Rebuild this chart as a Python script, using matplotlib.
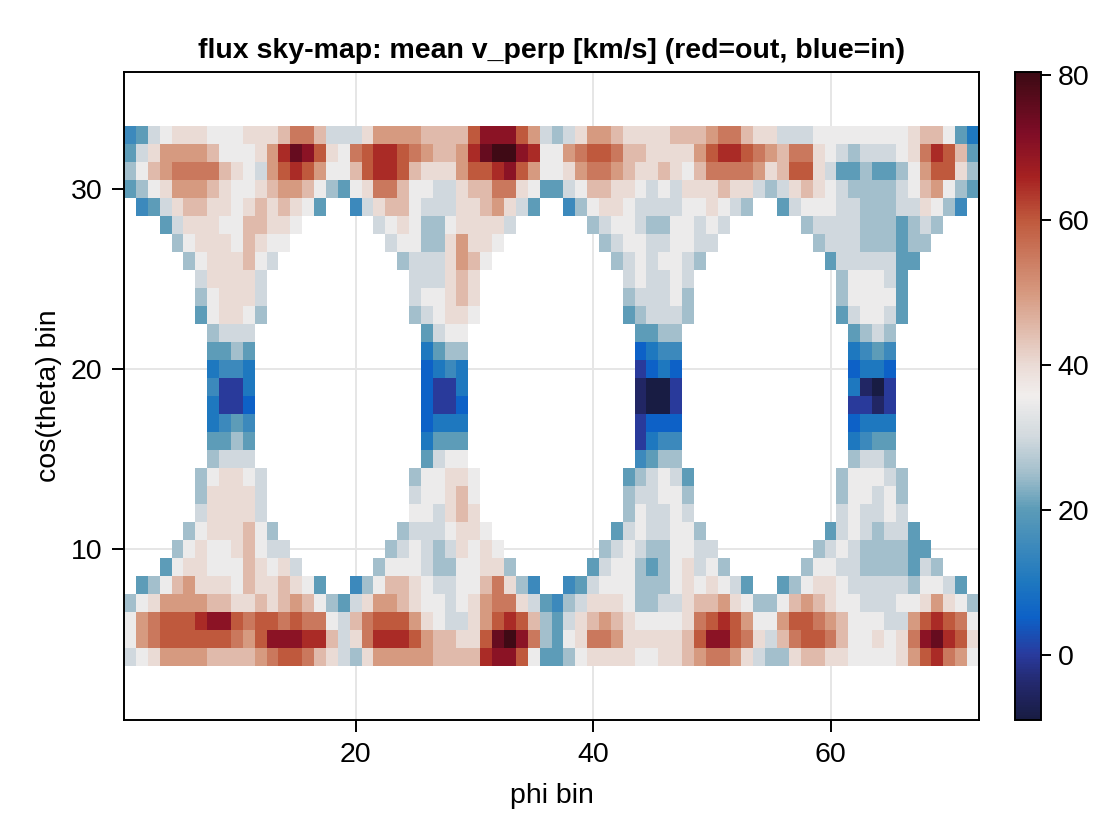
import numpy as np
import matplotlib
matplotlib.use("Agg")
import matplotlib.pyplot as plt
from matplotlib.colors import LinearSegmentedColormap

plt.rcParams["font.family"] = ["Liberation Sans", "DejaVu Sans"]

# ===============================
# Data
# ===============================
n_phi = 72
n_theta = 36
top_row = 33  # highest filled cos(theta) bin

# one letter per bin: a=-10, b=-5, c=0 ... s=80 km/s ; "." = empty bin
levels = "abcdefghijklmnopqrs"
level_values = [-10 + 5 * i for i in range(len(levels))]

# cos(theta) bins 33 down to 4, phi bins 1..72 in four groups of 18
sky_rows = [
    "fgijkkkjjjkkklnnli iikmmmmlllloqqqomi hikmmlkkkklllmnnlk kiiijjjjjjjjklljge",
    "gikmmmmljjjkmprqok jnopponmllmprssqpj jmnoonllkkkkmoppon mlnnkjihiiijknpolg",
    "hjlmnnnnlkjimopomj jloppolkkkmoopqomj jkmnnmlkklkjlnnnnm klookigghgghjmookh",
    "ghjkmmmlkjjklmmljh gjknnljjiikllnnkjg gijllkkjijikkklkki hiklkjihhhhijlmjhg",
    ".fgikllkkjklklkjg. .fiklljiiikklmkig. .fhjkkjiiiijjkjih. .gijjjiihhhiikjhf.",
    "...gikkkjjllkkj... ...ijkjhhjkkkki... ...hijjihhjjiji... ...hiiiihhhghih...",
    "....hjkkkjlkjj.... ....ijjhhkmkkj.... ....hijjiijjii.... ....hiiihhhghh....",
    ".....hjkkklji..... .....hiiikmlj..... .....hijijjih..... .....giiiiigg.....",
    "......ikkkki...... ......iiiklk...... ......ijiiji...... ......hjjjig......",
    "......hjkkki...... ......ijjklk...... ......hiiijh...... ......hjjjjg......",
    "......gjkkjh...... ......hijkkj...... ......ghiiih...... ......gijjig......",
    ".......hiii....... .......gijj....... .......gghh....... .......ghih.......",
    ".......gghg....... .......eghh....... .......deff....... .......efgf.......",
    ".......effe....... .......defe....... .......cded....... .......deed.......",
    ".......fcce....... .......dcce....... .......baac....... .......ebac.......",
    ".......eccd....... .......dccd....... .......baac....... .......ccbc.......",
    ".......efgf....... .......deee....... .......cddd....... .......deee.......",
    ".......gghg....... .......eggg....... .......ceff....... .......efgg.......",
    ".......hiii....... .......gijj....... .......fghh....... .......hiih.......",
    "......hjkkji...... ......hjjkkj...... ......ghijig...... ......hjjjih......",
    "......hkkkki...... ......ijjklj...... ......hiijjh...... ......hjjijh......",
    "......ikkkki...... ......jjiklk...... ......hjiiji...... ......ijiiji......",
    ".....hjkkkljh..... .....hiiijkkj..... .....gijiijjh..... .....gijihiig.....",
    "....hjkjjkljii.... ....hijihikjkj.... ....hijihhjjii.... ....hijihhhhgg....",
    "...gjkkjjjlkjki... ...hjjjihhjjkkh... ...gijjhghjkijh... ...hjjiihhhhgih...",
    ".ghjlmkkkjlkklkjg. .fhjllkjiijjlnkhf. .fgijjjhhhjkjkjig. .ghjkkjiiiiihjjig.",
    "hjkmmmmllkklklmljh gikmmlkjjijkmnnkig fhikkkjhhiikllmkjh hjlmlkjjiiijjkmkjh",
    "jmnooopqqonoononnj ilnooomkjiikmopolh giklmlkjjjjknopomj jmoonmljjjiimoponj",
    "jmnoooooonmoqqqppl iknpppomllkkorsqnh gjknnmkkkkkloqqonk ilnoonljjkjknqrpok",
    "ijkmmmmllllmnoonlk ihkmmmmmllllpqqojg ghjkkkkjjkklmnnmki hhkllkkjjjjkmopnmj",
]

vmin, vmax = -9.0, 80.4

# balance-like colormap anchors (value, rgb)
cmap_anchors = [
    (-9.0, (0.094, 0.110, 0.263)),
    (-4.0, (0.140, 0.160, 0.430)),
    (0.0, (0.160, 0.230, 0.620)),
    (5.0, (0.050, 0.380, 0.780)),
    (10.0, (0.120, 0.470, 0.750)),
    (20.0, (0.360, 0.610, 0.720)),
    (25.0, (0.640, 0.750, 0.800)),
    (30.0, (0.820, 0.850, 0.870)),
    (35.7, (0.945, 0.933, 0.929)),
    (40.0, (0.920, 0.860, 0.840)),
    (50.0, (0.840, 0.600, 0.500)),
    (60.0, (0.750, 0.350, 0.240)),
    (66.0, (0.650, 0.130, 0.130)),
    (72.0, (0.500, 0.050, 0.150)),
    (80.4, (0.235, 0.039, 0.078)),
]

# ===============================
# Build grid
# ===============================
grid = np.full((n_theta, n_phi), np.nan)
for k, row in enumerate(sky_rows):
    row = row.replace(" ", "")
    assert len(row) == n_phi
    for j, ch in enumerate(row):
        if ch != ".":
            grid[top_row - 1 - k, j] = level_values[levels.index(ch)]

cmap = LinearSegmentedColormap.from_list(
    "balance_like",
    [((v - vmin) / (vmax - vmin), c) for v, c in cmap_anchors],
)

# ===============================
# Plot
# ===============================
W, H = 1120, 840
fs = 20.5
fig = plt.figure(figsize=(W / 100, H / 100), dpi=100)
ax = fig.add_axes([124 / W, 120 / H, 855 / W, 648 / H])
cax = fig.add_axes([1015 / W, 120 / H, 26 / W, 648 / H])

x_edges = np.arange(0.5, n_phi + 1)
y_edges = np.arange(0.5, n_theta + 1)
mesh = ax.pcolormesh(x_edges, y_edges, grid, cmap=cmap, vmin=vmin, vmax=vmax)

ax.set_xlim(0.5, n_phi + 0.5)
ax.set_ylim(0.5, n_theta + 0.5)
ax.set_xticks([20, 40, 60])
ax.set_yticks([10, 20, 30])
ax.set_axisbelow(True)
ax.grid(True, color="#e6e6e6", linewidth=1.4)
ax.tick_params(direction="out", length=8.5, width=1.4, labelsize=fs, pad=7)
for s in ax.spines.values():
    s.set_linewidth(1.4)

ax.set_title("flux sky-map: mean v_perp [km/s] (red=out, blue=in)",
             fontsize=fs, fontweight="bold", pad=10)
ax.set_xlabel("phi bin", fontsize=fs, labelpad=11)
ax.set_ylabel("cos(theta) bin", fontsize=fs, labelpad=6)

cb = fig.colorbar(mesh, cax=cax)
cb.set_ticks([0, 20, 40, 60, 80])
cb.outline.set_linewidth(1.4)
cax.tick_params(direction="out", length=7, width=1.4, labelsize=fs, pad=5)

fig.savefig("out.png", dpi=100)
